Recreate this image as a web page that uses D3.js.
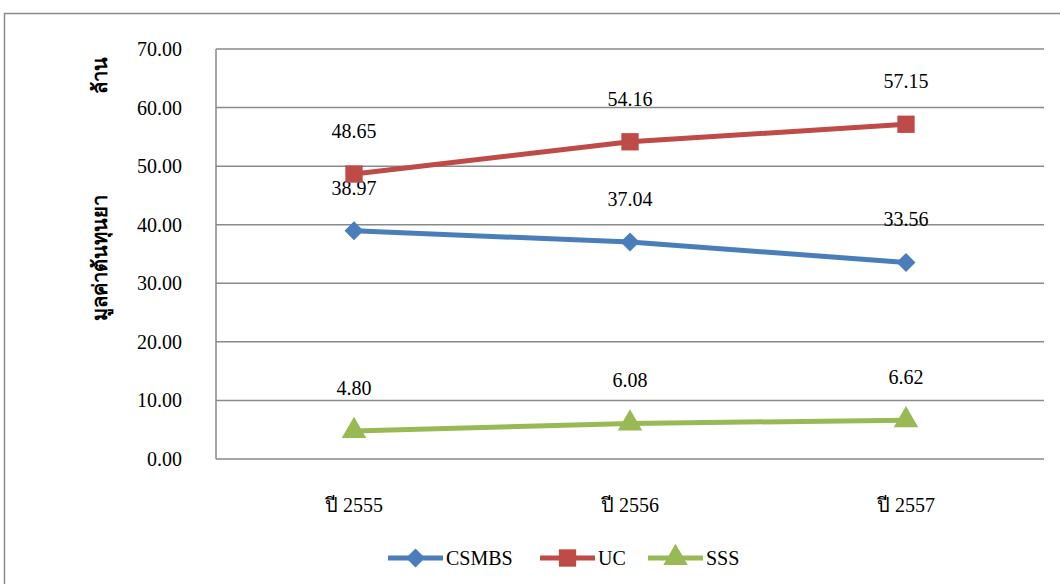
<!DOCTYPE html>
<html>
<head>
<meta charset="utf-8">
<script src="https://cdn.jsdelivr.net/npm/d3@7"></script>
<style>
  body { margin: 0; background: #fff; }
</style>
</head>
<body>
<div id="chart"></div>
<script>
var years = ["ปี 2555", "ปี 2556", "ปี 2557"]
var seriesNames = ["CSMBS", "UC", "SSS"]
var csmbs = [38.97, 37.04, 33.56]
var uc = [48.65, 54.16, 57.15]
var sss = [4.80, 6.08, 6.62]
var yTicks = [0, 10, 20, 30, 40, 50, 60, 70]

var colors = ["#4A7EBB", "#BE4B48", "#98B954"]
var shapes = [d3.symbolSquare, d3.symbolSquare, d3.symbolTriangle]
var rotations = [45, 0, 0]
var sizes = [180, 300, 260]
var FONT = "'Liberation Serif', 'DejaVu Serif', 'Times New Roman', serif"

var W = 1060, H = 584
var margin = { top: 49, left: 216, right: 16, bottom: 125 }
var width = W - margin.left - margin.right
var height = H - margin.top - margin.bottom

var svg = d3.select("#chart").append("svg")
  .attr("width", W)
  .attr("height", H)
  .attr("font-family", FONT)

// outer frame
svg.append("rect")
  .attr("x", 4.5).attr("y", 13.5)
  .attr("width", W + 10).attr("height", H)
  .attr("fill", "none")
  .attr("stroke", "#8c8c8c")
  .attr("stroke-width", 1.5)

var g = svg.append("g")
  .attr("transform", "translate(" + margin.left + "," + margin.top + ")")

var x = d3.scaleBand().domain(years).range([0, width])
var y = d3.scaleLinear().domain([0, 70]).range([height, 0])

// gridlines
g.selectAll(".grid").data(yTicks).enter().append("line")
  .attr("x1", 0).attr("x2", width)
  .attr("y1", function(d){ return y(d) })
  .attr("y2", function(d){ return y(d) })
  .attr("stroke", "#8a8a8a")
  .attr("stroke-width", 1.5)

g.append("line")
  .attr("x1", 0).attr("x2", 0)
  .attr("y1", 0).attr("y2", height)
  .attr("stroke", "#8a8a8a")
  .attr("stroke-width", 1.5)

// y tick labels
g.selectAll(".ytick").data(yTicks).enter().append("text")
  .attr("x", -34)
  .attr("y", function(d){ return y(d) })
  .attr("dy", "0.35em")
  .attr("text-anchor", "end")
  .attr("font-size", "20px")
  .text(function(d){ return d3.format(".2f")(d) })

// x labels
g.selectAll(".xlab").data(years).enter().append("text")
  .attr("x", function(d){ return x(d) + x.bandwidth()/2 })
  .attr("y", height + 53)
  .attr("text-anchor", "middle")
  .attr("font-size", "20px")
  .text(function(d){ return d })

// y axis title
svg.append("text")
  .attr("transform", "translate(107,258) rotate(-90)")
  .attr("text-anchor", "middle")
  .attr("font-size", "20px")
  .attr("font-weight", "bold")
  .text("มูลค่าต้นทุนยา")
svg.append("text")
  .attr("transform", "translate(107,75) rotate(-90)")
  .attr("text-anchor", "middle")
  .attr("font-size", "20px")
  .attr("font-weight", "bold")
  .text("ล้าน")

var allSeries = [csmbs, uc, sss]

var line = d3.line()
  .x(function(d, i){ return x(years[i]) + x.bandwidth()/2 })
  .y(function(d){ return y(d) })

allSeries.forEach(function(vals, s) {
  g.append("path")
    .datum(vals)
    .attr("d", line)
    .attr("fill", "none")
    .attr("stroke", colors[s])
    .attr("stroke-width", 5)

  g.selectAll(".pt" + s).data(vals).enter().append("path")
    .attr("transform", function(d, i){
      return "translate(" + (x(years[i]) + x.bandwidth()/2) + "," + y(d) + ") rotate(" + rotations[s] + ")"
    })
    .attr("d", d3.symbol().type(shapes[s]).size(sizes[s]))
    .attr("fill", colors[s])

  g.selectAll(".lab" + s).data(vals).enter().append("text")
    .attr("x", function(d, i){ return x(years[i]) + x.bandwidth()/2 })
    .attr("y", function(d){ return y(d) - 36 })
    .attr("text-anchor", "middle")
    .attr("font-size", "20px")
    .text(function(d){ return d3.format(".2f")(d) })
})

// legend
var legendX = [388, 540, 648]
seriesNames.forEach(function(name, s) {
  var lg = svg.append("g").attr("transform", "translate(" + legendX[s] + ",558)")
  lg.append("line")
    .attr("x1", 0).attr("x2", 55)
    .attr("stroke", colors[s])
    .attr("stroke-width", 5)
  lg.append("path")
    .attr("transform", "translate(27.5,0) rotate(" + rotations[s] + ")")
    .attr("d", d3.symbol().type(shapes[s]).size(sizes[s]))
    .attr("fill", colors[s])
  lg.append("text")
    .attr("x", 58)
    .attr("dy", "0.35em")
    .attr("font-size", "20px")
    .text(name)
})
</script>
</body>
</html>
